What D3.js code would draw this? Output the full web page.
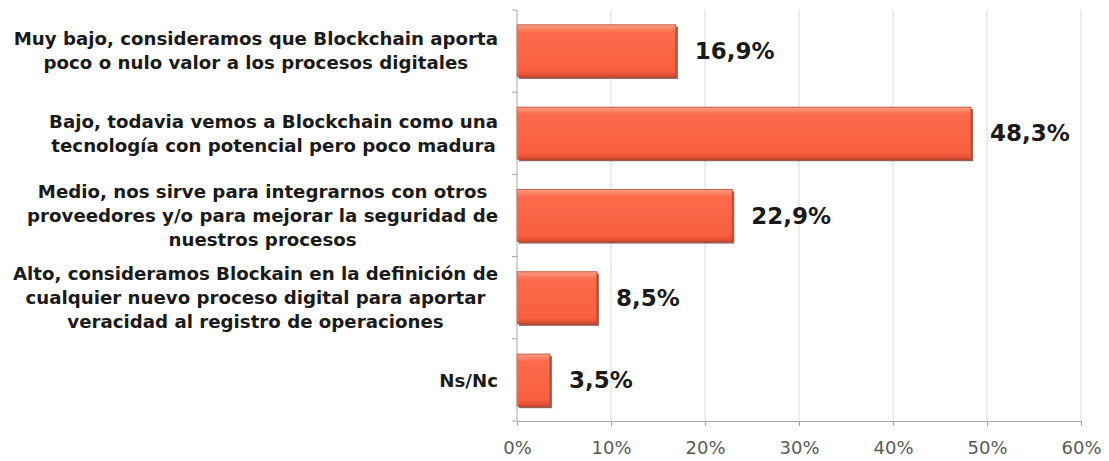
<!DOCTYPE html>
<html>
<head>
<meta charset="utf-8">
<script src="https://cdn.jsdelivr.net/npm/d3@7"></script>
<style>
  body { margin: 0; background: #fff; }
  text { font-family: "DejaVu Sans", Verdana, sans-serif; }
</style>
</head>
<body>
<div id="chart"></div>
<script>
// categories (each one split into the lines shown in the picture)
var categories = [
    ["Muy bajo, consideramos que Blockchain aporta", "poco o nulo valor a los procesos digitales"],
    ["Bajo, todavia vemos a Blockchain como una", "tecnología con potencial pero poco madura"],
    ["Medio, nos sirve para integrarnos con otros", "proveedores y/o para mejorar la seguridad de", "nuestros procesos"],
    ["Alto, consideramos Blockain en la definición de", "cualquier nuevo proceso digital para aportar", "veracidad al registro de operaciones"],
    ["Ns/Nc"]
];
var values = [16.9, 48.3, 22.9, 8.5, 3.5];
var valueLabels = ["16,9%", "48,3%", "22,9%", "8,5%", "3,5%"];
var ticks = [0, 10, 20, 30, 40, 50, 60];

var width = 1109, height = 461;
var margin = {top: 10, right: 28, bottom: 40, left: 517};
var w = width - margin.left - margin.right,
    h = height - margin.top - margin.bottom;

var svg = d3.select("#chart").append("svg")
    .attr("width", width)
    .attr("height", height);

var defs = svg.append("defs");
var grad = defs.append("linearGradient")
    .attr("id", "barGrad")
    .attr("x1", 0).attr("y1", 0).attr("x2", 0).attr("y2", 1);
grad.append("stop").attr("offset", "0%").attr("stop-color", "#fc9f84");
grad.append("stop").attr("offset", "14%").attr("stop-color", "#fb6b4b");
grad.append("stop").attr("offset", "88%").attr("stop-color", "#f85f40");
grad.append("stop").attr("offset", "100%").attr("stop-color", "#d9492d");

var g = svg.append("g")
    .attr("transform", "translate(" + margin.left + "," + margin.top + ")");

var x = d3.scaleLinear().domain([0, 60]).range([0, w]);
var y = d3.scaleBand()
    .domain(d3.range(values.length))
    .range([0, h])
    .paddingInner(0.367)
    .paddingOuter(0.18);

// gridlines
g.selectAll(".grid")
    .data(ticks.slice(1))
    .enter().append("line")
    .attr("x1", function(d) { return x(d); })
    .attr("x2", function(d) { return x(d); })
    .attr("y1", 0).attr("y2", h)
    .attr("stroke", "#d9d9d9")
    .attr("stroke-width", 1);

// bar shadows
g.selectAll(".shadow")
    .data(values)
    .enter().append("rect")
    .attr("x", 2)
    .attr("y", function(d, i) { return y(i) + 2; })
    .attr("width", function(d) { return x(d); })
    .attr("height", y.bandwidth())
    .attr("fill", "#7a2a1a")
    .attr("opacity", 0.75);

// bars
g.selectAll(".bar")
    .data(values)
    .enter().append("rect")
    .attr("class", "bar")
    .attr("x", 0)
    .attr("y", function(d, i) { return y(i); })
    .attr("width", function(d) { return x(d); })
    .attr("height", y.bandwidth())
    .attr("fill", "url(#barGrad)")
    .attr("stroke", "#c0432a")
    .attr("stroke-width", 0.8);

// value labels
g.selectAll(".val")
    .data(values)
    .enter().append("text")
    .attr("x", function(d) { return x(d) + 19; })
    .attr("y", function(d, i) { return y(i) + y.bandwidth() / 2; })
    .attr("dy", "0.36em")
    .attr("font-size", 23)
    .attr("font-weight", "bold")
    .attr("fill", "#1a1a1a")
    .text(function(d, i) { return valueLabels[i]; });

// x axis
var xAxis = g.append("g")
    .attr("transform", "translate(0," + h + ")")
    .call(d3.axisBottom(x).tickValues(ticks).tickFormat(function(d) { return d + "%"; }).tickSize(5).tickPadding(15));
xAxis.select(".domain").attr("stroke", "#a6a6a6");
xAxis.selectAll(".tick line").attr("stroke", "#a6a6a6");
xAxis.selectAll(".tick text")
    .attr("font-size", 18)
    .attr("fill", "#595959")
    .attr("font-family", "'DejaVu Sans', Verdana, sans-serif");

// y axis (ticks at band boundaries)
var bounds = d3.range(values.length + 1).map(function(i) { return i * h / values.length; });
g.append("line")
    .attr("x1", 0).attr("x2", 0).attr("y1", 0).attr("y2", h)
    .attr("stroke", "#a6a6a6");
g.selectAll(".ytick")
    .data(bounds)
    .enter().append("line")
    .attr("x1", -5).attr("x2", 0)
    .attr("y1", function(d) { return d; })
    .attr("y2", function(d) { return d; })
    .attr("stroke", "#a6a6a6");

// category labels: lines centered in a block that is right-aligned to the axis
var lineH = 24;
categories.forEach(function(lines, i) {
    var grp = g.append("g");
    var cy = y(i) + y.bandwidth() / 2;
    var t0 = cy - (lines.length - 1) * lineH / 2;
    var texts = lines.map(function(s, k) {
        return grp.append("text")
            .attr("y", t0 + k * lineH)
            .attr("dy", "0.36em")
            .attr("text-anchor", "middle")
            .attr("font-size", 18.2)
            .attr("font-weight", "bold")
            .attr("fill", "#1a1a1a")
            .text(s);
    });
    var maxW = d3.max(texts, function(t) { return t.node().getComputedTextLength(); });
    var cx = -19 - maxW / 2;
    texts.forEach(function(t) { t.attr("x", cx); });
});
</script>
</body>
</html>
